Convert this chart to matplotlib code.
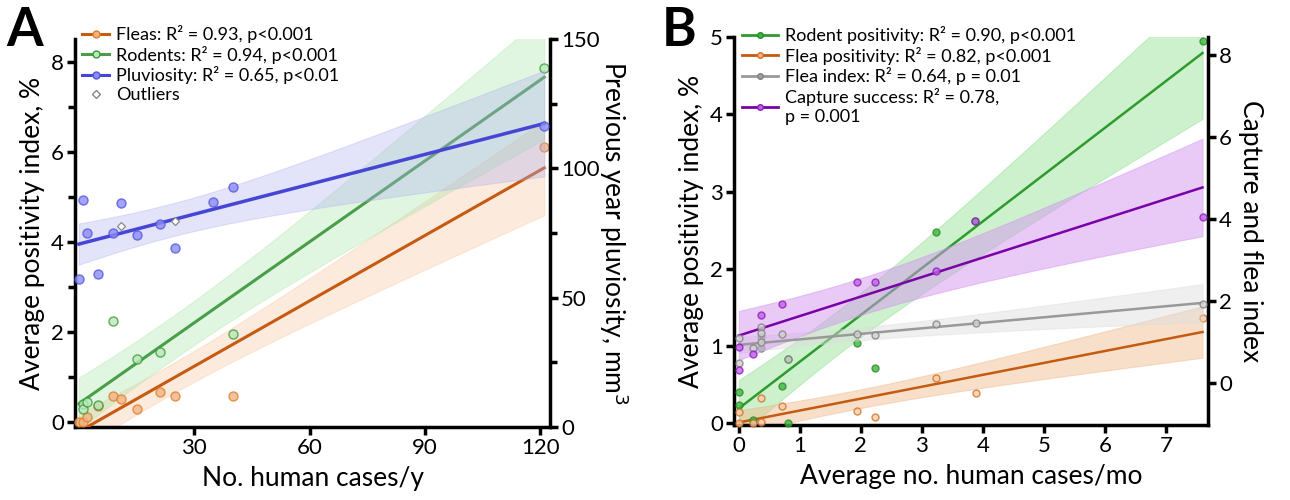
import numpy as np
import matplotlib
matplotlib.use('Agg')
import matplotlib.pyplot as plt
from matplotlib.lines import Line2D

plt.rcParams['font.family'] = ['Lato', 'DejaVu Sans']

# ---- Panel A data (No. human cases/y) ----
a_flea_x = [0, 1, 2, 5, 9, 11, 15, 21, 25, 40, 121]
a_flea_y = [0.0, 0.0, 0.13, 0.37, 0.58, 0.53, 0.30, 0.67, 0.58, 0.58, 6.10]
a_rod_x = [1, 1, 2, 5, 9, 15, 21, 40, 121]
a_rod_y = [0.42, 0.29, 0.46, 0.38, 2.25, 1.41, 1.57, 1.96, 7.86]
a_pluv_x = [0, 1, 2, 5, 9, 11, 15, 21, 25, 35, 40, 121]
a_pluv_y = [57.1, 87.7, 75.1, 59.0, 75.1, 86.6, 74.1, 78.5, 69.1, 87.1, 92.8, 116.2]
a_out_x = [11, 25]
a_out_y = [77.8, 79.6]

# ---- Panel B data (average no. human cases/mo) ----
b_rod_x = [0, 0, 0.23, 0.37, 0.37, 0.71, 0.8, 0.8, 1.94, 2.23, 3.23, 3.87, 7.6]
b_rod_y = [0.41, 0.245, 0.05, 1.12, 0.98, 0.48, 0.84, 0.0, 1.04, 0.72, 2.48, 2.62, 4.95]
b_flea_x = [0, 0, 0.23, 0.37, 0.37, 0.71, 1.94, 2.23, 3.23, 3.88, 7.6]
b_flea_y = [0.15, 0.0, 0.0, 0.33, 0.02, 0.22, 0.16, 0.087, 0.59, 0.395, 1.36]
b_fidx_x = [0, 0, 0.23, 0.37, 0.37, 0.37, 0.71, 0.8, 1.94, 2.23, 3.23, 3.88, 7.6]
b_fidx_y = [1.09, 0.50, 0.86, 1.37, 1.23, 1.0, 1.21, 0.58, 1.20, 1.17, 1.45, 1.46, 1.94]
b_cap_x = [0, 0, 0.23, 0.37, 0.71, 1.94, 2.23, 3.23, 3.87, 7.6]
b_cap_y = [0.89, 0.32, 0.71, 1.67, 1.93, 2.47, 2.46, 2.73, 3.96, 4.06]

# two-sided 95% t critical values by degrees of freedom
t95 = {7: 2.365, 8: 2.306, 9: 2.262, 10: 2.228, 11: 2.201, 12: 2.179, 13: 2.160}


def fit_band(x, y):
    # least squares line with 95% confidence band of the mean
    x = np.asarray(x, float)
    y = np.asarray(y, float)
    n = len(x)
    b, a = np.polyfit(x, y, 1)
    s = np.sqrt(np.sum((y - (a + b * x)) ** 2) / (n - 2))
    sxx = np.sum((x - x.mean()) ** 2)
    xs = np.linspace(0, x.max(), 200)
    fit = a + b * xs
    half = t95[n - 2] * s * np.sqrt(1.0 / n + (xs - x.mean()) ** 2 / sxx)
    return xs, fit, fit - half, fit + half


def draw_series(ax, x, y, line_c, band_c, pt_face, pt_edge, ms, lw, band_alpha=0.35):
    xs, fit, lo, hi = fit_band(x, y)
    ax.fill_between(xs, lo, hi, facecolor=band_c, alpha=band_alpha,
                    edgecolor=band_c, linewidth=0.8, zorder=1)
    ax.plot(xs, fit, color=line_c, lw=lw, zorder=3)
    ax.plot(x, y, 'o', ms=ms, mfc=pt_face, mec=pt_edge, mew=1.0, alpha=0.8,
            zorder=4, clip_on=False)


def style_axes(ax, ax2):
    for a in (ax, ax2):
        a.spines['top'].set_visible(False)
        for s in ('left', 'right', 'bottom'):
            a.spines[s].set_linewidth(2.5)
        a.tick_params(which='major', length=6, width=2.5, labelsize=16, pad=2)
        a.tick_params(which='minor', length=5, width=2.5)
        a.patch.set_visible(False)
    ax.spines['right'].set_visible(False)
    ax2.spines['left'].set_visible(False)
    ax2.spines['bottom'].set_visible(False)


fig = plt.figure(figsize=(12.9, 5.0), dpi=100)

# ---------------- Panel A ----------------
axA = fig.add_axes([75 / 1290, 73 / 500, 475 / 1290, 388 / 500])
axA2 = axA.twinx()

orange = '#C55A11'
green = '#4A9E4A'
blue = '#4646D6'

draw_series(axA, a_flea_x, a_flea_y, orange, '#F8C59B', '#F4B183', '#D9822B', 6.5, 2.2)
draw_series(axA, a_rod_x, a_rod_y, green, '#A8E6A8', '#B9E8B9', '#3A9A3A', 6.5, 2.2)
draw_series(axA2, a_pluv_x, a_pluv_y, blue, '#B0B0F0', '#8C8CF5', '#5555E0', 6.5, 2.5)
axA2.plot(a_out_x, a_out_y, 'D', ms=4.5, mfc='white', mec='#888888', mew=0.9, zorder=5)

axA.set_xlim(-1, 122.5)
axA.set_ylim(-0.1, 8.5)
axA2.set_ylim(0, 150)
axA.set_xticks([30, 60, 90, 120])
axA.set_yticks([0, 2, 4, 6, 8])
axA.set_yticks([1, 3, 5, 7], minor=True)
axA2.set_yticks([0, 50, 100, 150])
axA2.set_yticks([25, 75, 125], minor=True)
style_axes(axA, axA2)

axA.set_xlabel('No. human cases/y', fontsize=19, labelpad=6)
axA.set_ylabel('Average positivity index, %', fontsize=19, labelpad=4)
axA2.set_ylabel('Previous year pluviosity, mm$^3$', fontsize=19, rotation=270,
                labelpad=22)

handlesA = [
    Line2D([], [], color=orange, lw=2.2, marker='o', ms=5, mfc='#F4B183', mec='#D9822B'),
    Line2D([], [], color=green, lw=2.2, marker='o', ms=5, mfc='#B9E8B9', mec='#3A9A3A'),
    Line2D([], [], color=blue, lw=2.2, marker='o', ms=5, mfc='#8C8CF5', mec='#5555E0'),
    Line2D([], [], ls='none', marker='D', ms=4.5, mfc='white', mec='#888888'),
]
labelsA = ['Fleas: R² = 0.93, p<0.001', 'Rodents: R² = 0.94, p<0.001',
           'Pluviosity: R² = 0.65, p<0.01', 'Outliers']
fig.legend(handlesA, labelsA, loc='upper left', bbox_to_anchor=(82 / 1290, 1 - 25 / 500),
           frameon=False, fontsize=13, handlelength=1.5, handletextpad=0.4,
           labelspacing=0.15, borderpad=0, borderaxespad=0)

# ---------------- Panel B ----------------
axB = fig.add_axes([734 / 1290, 75 / 500, 474 / 1290, 388 / 500])
axB2 = axB.twinx()

greenB = '#2E9B2E'
purple = '#7A00A8'
grey = '#999999'

draw_series(axB, b_rod_x, b_rod_y, greenB, '#90E090', '#3CB83C', '#2A8A2A', 5, 1.8, 0.45)
draw_series(axB, b_flea_x, b_flea_y, orange, '#F0B888', '#F8CBAD', '#D07020', 5, 1.8, 0.45)
draw_series(axB2, b_fidx_x, b_fidx_y, grey, '#DDDDDD', '#D0D0D0', '#808080', 5, 1.8, 0.45)
draw_series(axB2, b_cap_x, b_cap_y, purple, '#D496F0', '#C060F0', '#8A20B0', 5, 1.8, 0.5)

axB.set_xlim(-0.08, 7.69)
axB.set_ylim(-0.02, 5.0)
axB2.set_ylim(-1.02, 8.44)
axB.set_xticks(range(0, 8))
axB.set_yticks(range(0, 6))
axB2.set_yticks([0, 2, 4, 6, 8])
style_axes(axB, axB2)

axB.set_xlabel('Average no. human cases/mo', fontsize=19, labelpad=6)
axB.set_ylabel('Average positivity index, %', fontsize=19, labelpad=4)
axB2.set_ylabel('Capture and flea index', fontsize=19, rotation=270, labelpad=22)

handlesB = [
    Line2D([], [], color=greenB, lw=2, marker='o', ms=4, mfc='#3CB83C', mec='#2A8A2A'),
    Line2D([], [], color=orange, lw=2, marker='o', ms=4, mfc='#F4B183', mec='#D07020'),
    Line2D([], [], color=grey, lw=2, marker='o', ms=4, mfc='#A0A0A0', mec='#808080'),
    Line2D([], [], color=purple, lw=2, marker='o', ms=4, mfc='#C060F0', mec='#8A20B0'),
]
labelsB = ['Rodent positivity: R² = 0.90, p<0.001', 'Flea positivity: R² = 0.82, p<0.001',
           'Flea index: R² = 0.64, p = 0.01', 'Capture success: R² = 0.78,\np = 0.001']
fig.legend(handlesB, labelsB, loc='upper left', bbox_to_anchor=(742 / 1290, 1 - 26 / 500),
           frameon=False, fontsize=13, handlelength=2.0, handletextpad=0.4,
           labelspacing=0.15, borderpad=0, borderaxespad=0)

# panel letters
fig.text(6 / 1290, 1 - 6 / 500, 'A', fontsize=38, fontweight='bold', va='top', ha='left')
fig.text(662 / 1290, 1 - 6 / 500, 'B', fontsize=38, fontweight='bold', va='top', ha='left')

fig.savefig('out.png', dpi=100)
